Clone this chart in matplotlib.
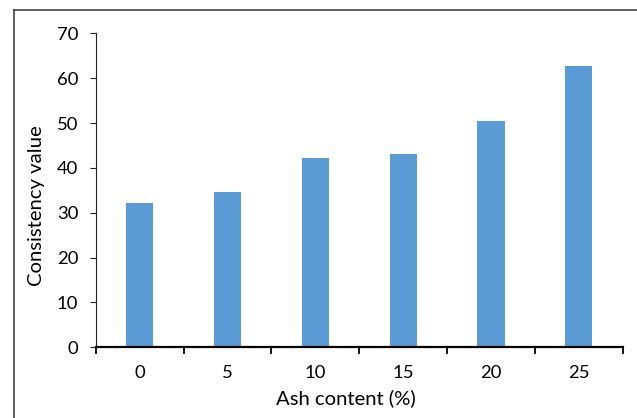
import matplotlib
matplotlib.use("Agg")
import matplotlib.pyplot as plt
from matplotlib.lines import Line2D
import numpy as np

categories = ["0", "5", "10", "15", "20", "25"]
values = [32.1, 34.6, 42.2, 43.2, 50.4, 62.7]
y_ticks = [0, 10, 20, 30, 40, 50, 60, 70]

plt.rcParams['font.family'] = ['Lato', 'DejaVu Sans']

fig = plt.figure(figsize=(6.37, 4.18), dpi=100)
ax = fig.add_axes([0.1502, 0.1691, 0.9776 - 0.1502, 0.9203 - 0.1691])

x = np.arange(len(categories))
ax.bar(x, values, width=0.31, color="#5B9BD5", zorder=2)

ax.set_xlim(-0.5, len(categories) - 0.5)
ax.set_ylim(0, 70)
ax.set_yticks(y_ticks)
ax.set_yticklabels([str(v) for v in y_ticks], fontsize=13.3)

# major ticks at category boundaries, labels at centers
ax.set_xticks(np.arange(-0.5, len(categories), 1.0))
ax.set_xticklabels([])
ax.set_xticks(x, minor=True)
ax.set_xticklabels(categories, minor=True, fontsize=13.3)
ax.tick_params(axis='x', which='major', direction='out', length=5, width=1.3, color='black')
ax.tick_params(axis='x', which='minor', length=0, pad=13)
ax.tick_params(axis='y', direction='out', length=4.5, width=0.8, color='#222222', pad=8)

for s in ['top', 'right']:
    ax.spines[s].set_visible(False)
ax.spines['left'].set_linewidth(0.8)
ax.spines['left'].set_color('#222222')
ax.spines['bottom'].set_linewidth(1.6)
ax.spines['bottom'].set_color('black')

ax.set_xlabel("Ash content (%)", fontsize=14.6, va='center')
ax.xaxis.set_label_coords(0.4746, -(398 - 347.3) / 314)
ax.set_ylabel("Consistency value", fontsize=14.6, va='center')
ax.yaxis.set_label_coords(-(95.7 - 36.7) / 527, 1 - (206 - 33.3) / 314)

# outer frame (top and left edges)
fig.add_artist(Line2D([13.5 / 637, 13.5 / 637], [0, 1 - 9.7 / 418], transform=fig.transFigure, color='#333333', lw=1.1))
fig.add_artist(Line2D([13.5 / 637, 1], [1 - 9.7 / 418, 1 - 9.7 / 418], transform=fig.transFigure, color='#333333', lw=1.1))

fig.savefig("out.png", dpi=100)
